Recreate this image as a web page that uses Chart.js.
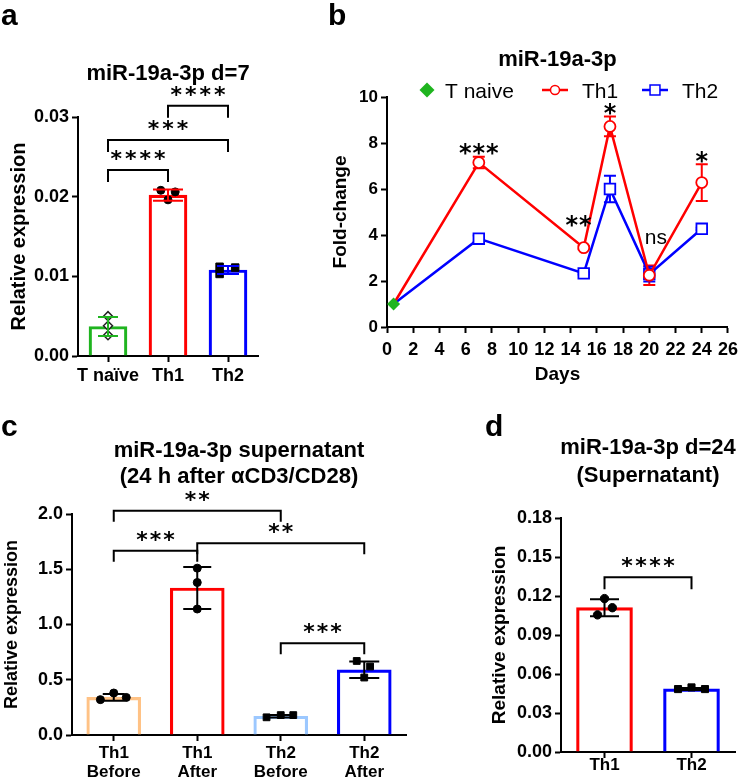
<!DOCTYPE html>
<html><head><meta charset="utf-8">
<script src="https://cdn.jsdelivr.net/npm/chart.js@4.4.1/dist/chart.umd.min.js"></script>
<style>
html,body{margin:0;padding:0;background:#fff;}
#wrap{position:relative;width:744px;height:780px;overflow:hidden;background:#fff;}
canvas{position:absolute;left:0;top:0;}
</style></head><body>
<div id="wrap">
<canvas id="ca" width="744" height="780"></canvas>
<canvas id="cb" width="744" height="780"></canvas>
<canvas id="cc" width="744" height="780"></canvas>
<canvas id="cd" width="744" height="780"></canvas>
</div>
<script>
// ===== DATA =====
// Panel a
const catsA = ['T naïve', 'Th1', 'Th2'];
const meanA = [0.0037, 0.0202, 0.0108];
const sdA = [0.0012, 0.0007, 0.0005];
const ptsA = [[0.0050, 0.0038, 0.0026], [0.0208, 0.0206, 0.0196], [0.0112, 0.0111, 0.0103]];
const ticksA = [0, 0.01, 0.02, 0.03];
const sigA = [
  {from: 0, to: 1, level: 0.02335, text: '****'},
  {from: 0, to: 2, level: 0.0271, text: '***'},
  {from: 1, to: 2, level: 0.0314, text: '****'}
];
// Panel b
const daysB = [0.5, 7, 15, 17, 20, 24];
const naiveB = [1.0];
const th1B = [1.0, 7.15, 3.45, 8.72, 2.25, 6.28];
const th1SdB = [0, 0.25, 0.07, 0.43, 0.42, 0.8];
const th2B = [1.0, 3.84, 2.33, 6.0, 2.3, 4.27];
const th2SdB = [0, 0.14, 0.05, 0.58, 0.32, 0.05];
const ticksBx = [0, 2, 4, 6, 8, 10, 12, 14, 16, 18, 20, 22, 24, 26];
const ticksBy = [0, 2, 4, 6, 8, 10];
const sigB = [
  {day: 7, level: 7.75, text: '***'},
  {day: 14.6, level: 4.6, text: '**'},
  {day: 17, level: 9.48, text: '*'},
  {day: 20.5, level: 3.85, text: 'ns'},
  {day: 24, level: 7.38, text: '*'}
];
// Panel c
const catsC = [['Th1', 'Before'], ['Th1', 'After'], ['Th2', 'Before'], ['Th2', 'After']];
const meanC = [0.34, 1.33, 0.17, 0.59];
const sdC = [0.03, 0.19, 0.012, 0.075];
const ptsC = [[0.32, 0.38, 0.34], [1.51, 1.38, 1.14], [0.16, 0.18, 0.18], [0.67, 0.62, 0.52]];
const ticksC = [0, 0.5, 1.0, 1.5, 2.0];
const sigC = [
  {from: 0, to: 2, level: 2.03, text: '**'},
  {from: 0, to: 1, level: 1.668, text: '***'},
  {from: 1, to: 3, level: 1.735, text: '**'},
  {from: 2, to: 3, level: 0.83, text: '***'}
];
// Panel d
const catsD = ['Th1', 'Th2'];
const meanD = [0.111, 0.0485];
const sdD = [0.0065, 0.0008];
const ptsD = [[0.118, 0.111, 0.1055], [0.0484, 0.0497, 0.0484]];
const ticksD = [0, 0.03, 0.06, 0.09, 0.12, 0.15, 0.18];
const sigD = [{from: 0, to: 1, level: 0.1344, text: '****'}];

// ===== STYLE / LAYOUT =====
const FONT = '"Liberation Sans", Arial, Helvetica, sans-serif';
const GREEN = '#1fb41f', RED = '#ff0000', BLUE = '#0000ff', LORANGE = '#ffc285', LBLUE = '#9cc8ff';
const jitA = [[0, 0, 0], [-0.12, 0.12, 0], [-0.14, 0.12, -0.14]];
const jitC = [[-0.16, 0, 0.15], [0, 0, 0], [-0.17, 0, 0.15], [-0.09, 0.07, 0]];
const jitD = [[0, 0.09, -0.08], [-0.155, 0, 0.155]];

const GEO = {
  a: {L: 78, R: 258, T: 117, B: 356, wy: 71, barW: 38},
  b: {L: 387, R: 734, T: 97, B: 327, wy: 57.4, hx: 59.4},
  c: {L: 72, R: 406, T: 514, B: 735, wy: 70.3, barW: 54},
  d: {L: 561, R: 735, T: 518, B: 752, wy: 72.9, barW: 56}
};
['a', 'c', 'd'].forEach(k => { GEO[k].hx = 780 - GEO[k].B; });
function layoutFor(g) {
  return {padding: {left: g.L - g.wy, right: 744 - g.R, top: g.T, bottom: 780 - g.B - g.hx}};
}

function baseAxis(fs, tickPad, tickLen) {
  return {
    border: {display: true, color: '#000', width: 2},
    grid: {display: true, drawOnChartArea: false, drawTicks: true, offset: false,
      tickLength: tickLen == null ? 6 : tickLen, tickWidth: 2, tickColor: '#000'},
    ticks: {color: '#000', padding: tickPad == null ? 3 : tickPad, autoSkip: false, maxRotation: 0,
      font: {family: FONT, size: fs, weight: 'bold'}}
  };
}
function yAxis(g, arr, dec, fs, title, tfs) {
  const a = baseAxis(fs);
  a.position = 'left';
  a.min = arr[0]; a.max = arr[arr.length - 1];
  a.afterBuildTicks = s => { s.ticks = arr.map(v => ({value: v})); };
  a.afterFit = s => { s.width = g.wy; };
  a.ticks.callback = v => Number(v).toFixed(dec);
  a.title = {display: true, text: title, color: '#000', padding: {top: 0, bottom: 0},
    font: {family: FONT, size: tfs, weight: 'bold'}};
  return a;
}
function xCat(g, fs, pad, lh) {
  const a = baseAxis(fs, pad);
  a.type = 'category'; a.position = 'bottom'; a.offset = true;
  a.ticks.font.lineHeight = lh || 1.2;
  a.afterFit = s => { s.height = g.hx; };
  return a;
}
function xJit(n) {
  return {type: 'linear', display: false, offset: false, grid: {offset: false},
    min: -0.5, max: n - 0.5, position: 'bottom'};
}

function barSet(vals, colors, g) {
  return {type: 'bar', data: vals, borderColor: colors, backgroundColor: 'rgba(255,255,255,0)',
    borderWidth: 2.5, grouped: false, barPercentage: 1, categoryPercentage: 1,
    maxBarThickness: g.barW, order: 2, xAxisID: 'x', yAxisID: 'y'};
}
function pointSets(pts, jit, styles) {
  return pts.map((vals, g) => Object.assign({
    type: 'scatter', xAxisID: 'xj', yAxisID: 'y', order: 0, showLine: false,
    data: vals.map((v, k) => ({x: g + jit[g][k], y: v}))
  }, styles[g]));
}
const dot = r => ({pointStyle: 'circle', pointRadius: r, pointBackgroundColor: '#000', pointBorderColor: '#000', pointBorderWidth: 1});
const sq = r => ({pointStyle: 'rect', pointRadius: r, pointBackgroundColor: '#000', pointBorderColor: '#000', pointBorderWidth: 1});
const dia = r => ({pointStyle: 'rectRot', pointRadius: r, pointBackgroundColor: '#fff', pointBorderColor: '#222', pointBorderWidth: 1.5});

// ===== ANNOTATION PLUGIN =====
const ANN = {};
function drawErr(chart, e) {
  const ctx = chart.ctx, xs = chart.scales[e.xAxis || 'x'], ys = chart.scales.y;
  ctx.save(); ctx.lineWidth = 2; ctx.lineCap = 'butt';
  e.mean.forEach((m, i) => {
    const sd = e.sd[i]; if (!sd) return;
    const x = xs.getPixelForValue(e.xs ? e.xs[i] : i);
    const yt = ys.getPixelForValue(m + sd), yb = ys.getPixelForValue(m - sd);
    const w = (Array.isArray(e.cap) ? e.cap[i] : e.cap) / 2;
    ctx.strokeStyle = Array.isArray(e.color) ? e.color[i] : e.color;
    ctx.beginPath();
    ctx.moveTo(x, yt); ctx.lineTo(x, yb);
    ctx.moveTo(x - w, yt); ctx.lineTo(x + w, yt);
    ctx.moveTo(x - w, yb); ctx.lineTo(x + w, yb);
    ctx.stroke();
  });
  ctx.restore();
}
function drawSig(ctx, t, cx, cy, o) {
  ctx.save();
  ctx.fillStyle = '#000'; ctx.textAlign = 'center'; ctx.textBaseline = 'alphabetic';
  if (/^\*+$/.test(t)) {
    ctx.font = o.starFont;
    ctx.letterSpacing = o.starGap + 'px';
    const m = ctx.measureText(t);
    ctx.fillText(t, cx + o.starGap / 2, cy + (m.actualBoundingBoxAscent - m.actualBoundingBoxDescent) / 2);
  } else {
    ctx.font = '21px ' + FONT;
    const m = ctx.measureText(t);
    ctx.fillText(t, cx, cy + (m.actualBoundingBoxAscent - m.actualBoundingBoxDescent) / 2);
  }
  ctx.restore();
}
const annot = {
  id: 'annot',
  beforeDatasetsDraw(chart) {
    const o = ANN[chart.canvas.id];
    (o.err || []).forEach(e => { if (e.before) drawErr(chart, e); });
  },
  afterDatasetsDraw(chart) {
    const o = ANN[chart.canvas.id];
    (o.err || []).forEach(e => { if (!e.before) drawErr(chart, e); });
    const ctx = chart.ctx, ca = chart.chartArea;
    ctx.save();
    ctx.fillStyle = '#000'; ctx.textAlign = 'center'; ctx.textBaseline = 'alphabetic';
    ctx.font = 'bold ' + o.titleSize + 'px ' + FONT;
    o.title.forEach((t, i) => ctx.fillText(t, (ca.left + ca.right) / 2, o.titleY[i]));
    ctx.textAlign = 'left';
    ctx.font = 'bold 30px ' + FONT;
    ctx.fillText(o.letter, o.letterXY[0], o.letterXY[1]);
    const xs = chart.scales.x, ys = chart.scales.y;
    (o.brackets || []).forEach(b => {
      const x1 = xs.getPixelForValue(b.from), x2 = xs.getPixelForValue(b.to), y = ys.getPixelForValue(b.level);
      ctx.strokeStyle = '#000'; ctx.lineWidth = 2; ctx.lineJoin = 'miter';
      ctx.beginPath();
      ctx.moveTo(x1, y + o.drop); ctx.lineTo(x1, y); ctx.lineTo(x2, y); ctx.lineTo(x2, y + o.drop);
      ctx.stroke();
      drawSig(ctx, b.text, (x1 + x2) / 2, y - 15, o);
    });
    (o.labels || []).forEach(s => {
      drawSig(ctx, s.text, xs.getPixelForValue(s.day), ys.getPixelForValue(s.level), o);
    });
    if (o.legend) {
      o.legend.forEach(it => {
        const ds = chart.data.datasets[it.ds];
        const y = o.legendY;
        if (it.line) {
          ctx.strokeStyle = ds.borderColor; ctx.lineWidth = 2.5;
          ctx.beginPath(); ctx.moveTo(it.x - 13, y); ctx.lineTo(it.x + 13, y); ctx.stroke();
        }
        ctx.fillStyle = it.fill; ctx.strokeStyle = ds.pointBorderColor; ctx.lineWidth = it.bw;
        Chart.helpers.drawPoint(ctx, {pointStyle: ds.pointStyle, radius: it.r, borderWidth: it.bw, rotation: 0}, it.x, y);
        ctx.fillStyle = '#000'; ctx.textAlign = 'left';
        ctx.font = '21px ' + FONT;
        ctx.fillText(ds.label, it.tx, y + 7.5);
      });
    }
    ctx.restore();
  }
};

const common = {
  responsive: false, animation: false, devicePixelRatio: 1,
  plugins: {legend: {display: false}, tooltip: {enabled: false}}
};

// ===== PANEL A =====
ANN.ca = {
  title: ['miR-19a-3p d=7'], titleY: [80], titleSize: 22,
  letter: 'a', letterXY: [1, 25], drop: 12,
  starFont: 'bold 22px "DejaVu Sans"', starGap: 3,
  brackets: sigA,
  err: [{mean: meanA, sd: sdA, color: [GREEN, RED, BLUE], cap: [20, 30, 22]}]
};
new Chart(document.getElementById('ca'), {
  type: 'bar',
  data: {
    labels: catsA,
    datasets: [barSet(meanA, [GREEN, RED, BLUE], GEO.a)]
      .concat(pointSets(ptsA, jitA, [dia(4.5), dot(4), sq(5.3)]))
  },
  options: Object.assign({}, common, {
    layout: layoutFor(GEO.a),
    scales: {
      x: xCat(GEO.a, 18, 3),
      xj: xJit(catsA.length),
      y: yAxis(GEO.a, ticksA, 2, 18, 'Relative expression', 20)
    }
  }),
  plugins: [annot]
});

// ===== PANEL B =====
ANN.cb = {
  title: ['miR-19a-3p'], titleY: [66], titleSize: 22,
  letter: 'b', letterXY: [328, 25], drop: 12,
  starFont: 'bold 24px "DejaVu Sans"', starGap: 1,
  labels: sigB,
  legendY: 90,
  legend: [
    {ds: 0, x: 427, tx: 445, r: 7.5, bw: 0, fill: GREEN, line: false},
    {ds: 1, x: 555, tx: 582, r: 4.5, bw: 1.5, fill: '#fff', line: true},
    {ds: 2, x: 655, tx: 682, r: 7, bw: 1.5, fill: '#fff', line: true}
  ],
  err: [
    {before: true, xs: daysB, mean: th1B, sd: th1SdB, color: RED, cap: 12},
    {before: true, xs: daysB, mean: th2B, sd: th2SdB, color: BLUE, cap: 12}
  ]
};
const bX = Object.assign(baseAxis(18, 6), {
  type: 'linear', position: 'bottom', min: ticksBx[0], max: ticksBx[ticksBx.length - 1],
  afterBuildTicks: s => { s.ticks = ticksBx.map(v => ({value: v})); },
  afterFit: s => { s.height = GEO.b.hx; },
  title: {display: true, text: 'Days', color: '#000', padding: {top: 0, bottom: 0}, font: {family: FONT, size: 19, weight: 'bold'}}
});
bX.ticks.callback = v => String(v);
const bY = yAxis(GEO.b, ticksBy, 0, 17, 'Fold-change', 19);
new Chart(document.getElementById('cb'), {
  type: 'line',
  data: {
    datasets: [
      {label: 'T naive', data: naiveB.map(v => ({x: daysB[0], y: v})), showLine: false, order: 0,
        pointStyle: 'rectRot', pointRadius: 6.5, pointBackgroundColor: GREEN, pointBorderColor: GREEN, pointBorderWidth: 0, borderColor: GREEN},
      {label: 'Th1', data: daysB.map((d, i) => ({x: d, y: th1B[i]})), order: 1, borderColor: RED, borderWidth: 2.5, tension: 0,
        pointStyle: 'circle', pointRadius: ctx => ctx.dataIndex === 0 ? 0 : 5.5, pointBackgroundColor: '#fff', pointBorderColor: RED, pointBorderWidth: 1.8},
      {label: 'Th2', data: daysB.map((d, i) => ({x: d, y: th2B[i]})), order: 2, borderColor: BLUE, borderWidth: 2.5, tension: 0,
        pointStyle: 'rect', pointRadius: ctx => ctx.dataIndex === 0 ? 0 : 7.5, pointBackgroundColor: '#fff', pointBorderColor: BLUE, pointBorderWidth: 1.8}
    ]
  },
  options: Object.assign({}, common, {
    layout: layoutFor(GEO.b),
    scales: {x: bX, y: bY}
  }),
  plugins: [annot]
});

// ===== PANEL C =====
ANN.cc = {
  title: ['miR-19a-3p supernatant', '(24 h after αCD3/CD28)'], titleY: [457, 483], titleSize: 22,
  letter: 'c', letterXY: [1, 436], drop: 11,
  starFont: 'bold 22px "DejaVu Sans"', starGap: 2,
  brackets: sigC,
  err: [{mean: meanC, sd: sdC, color: '#000', cap: [22, 28, 24, 30]}]
};
new Chart(document.getElementById('cc'), {
  type: 'bar',
  data: {
    labels: catsC,
    datasets: [barSet(meanC, [LORANGE, RED, LBLUE, BLUE], GEO.c)]
      .concat(pointSets(ptsC, jitC, [dot(4), dot(4), sq(4.8), sq(4.8)]))
  },
  options: Object.assign({}, common, {
    layout: layoutFor(GEO.c),
    scales: {
      x: xCat(GEO.c, 17, 3, 1.1),
      xj: xJit(catsC.length),
      y: yAxis(GEO.c, ticksC, 1, 18, 'Relative expression', 18)
    }
  }),
  plugins: [annot]
});

// ===== PANEL D =====
ANN.cd = {
  title: ['miR-19a-3p d=24', '(Supernatant)'], titleY: [454, 482], titleSize: 22,
  letter: 'd', letterXY: [485, 436], drop: 12,
  starFont: 'bold 22px "DejaVu Sans"', starGap: 2.5,
  brackets: sigD,
  err: [{mean: meanD, sd: sdD, color: '#000', cap: [29, 26]}]
};
new Chart(document.getElementById('cd'), {
  type: 'bar',
  data: {
    labels: catsD,
    datasets: [barSet(meanD, [RED, BLUE], GEO.d)]
      .concat(pointSets(ptsD, jitD, [dot(4.2), sq(5)]))
  },
  options: Object.assign({}, common, {
    layout: layoutFor(GEO.d),
    scales: {
      x: xCat(GEO.d, 17, -1, 1.0),
      xj: xJit(catsD.length),
      y: yAxis(GEO.d, ticksD, 2, 18, 'Relative expression', 19)
    }
  }),
  plugins: [annot]
});
</script>
</body></html>
